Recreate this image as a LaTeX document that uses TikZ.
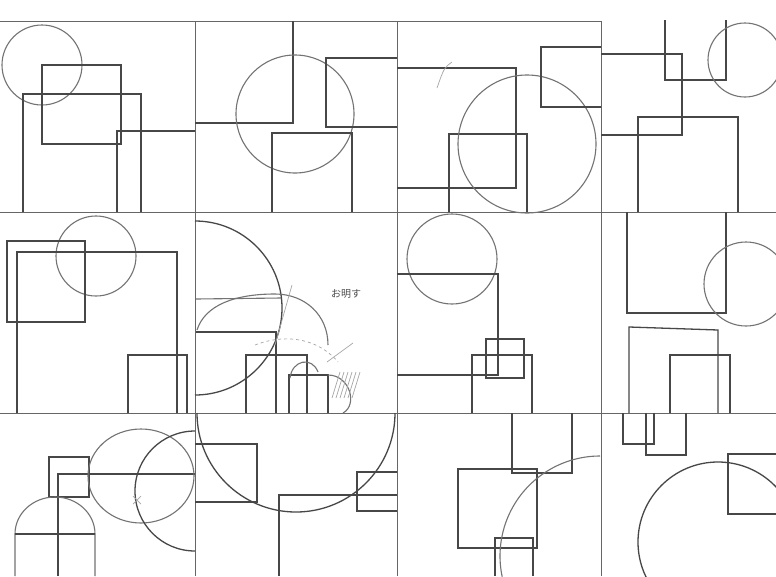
\documentclass[tikz,border=0pt]{standalone}
\usepackage{fontspec}
\usepackage{tikz}
\newfontfamily\jpfont{Noto Sans CJK JP}

\begin{document}
\begin{tikzpicture}[x=1pt,y=1pt,yscale=-1,
    pen/.style={draw=black!72,line width=1.3pt},
    ring/.style={draw=black!55,line width=1.1pt},
    frame/.style={draw=black!60,line width=1pt},
    faint/.style={draw=black!35,line width=0.7pt}]
        \useasboundingbox (0,0) rectangle (776,576);
        \clip (0,0) rectangle (776,576);
        \fill[white] (0,0) rectangle (776,576);
        % grid of the twelve panels
        \draw[frame] (0,21) -- (601,21);
        \draw[frame] (0,212) -- (776,212);
        \draw[frame] (0,413) -- (776,413);
        \draw[frame] (195,21) -- (195,576);
        \draw[frame] (397,21) -- (397,576);
        \draw[frame] (601,21) -- (601,576);
        % row 1
        \draw[ring] (42,65) circle (40);
        \draw[pen] (42,65) rectangle (121,144);
        \draw[pen] (23,212) -- (23,94) -- (141,94) -- (141,212);
        \draw[pen] (117,212) -- (117,131) -- (195,131);
        \draw[pen] (195,123) -- (293,123) -- (293,21);
        \draw[ring] (295,114) circle (59);
        \draw[pen] (397,58) -- (326,58) -- (326,127) -- (397,127);
        \draw[pen] (272,212) -- (272,133) -- (352,133) -- (352,212);
        \draw[pen] (397,68) -- (516,68) -- (516,188) -- (397,188);
        \draw[pen] (449,212) -- (449,134) -- (527,134) -- (527,212);
        \draw[ring] (527,144) circle (69);
        \draw[pen] (601,47) -- (541,47) -- (541,107) -- (601,107);
        \draw[faint] (452,62) .. controls (444,68) .. (437,88);
        \draw[pen] (665,20) -- (665,80) -- (726,80) -- (726,20);
        \draw[ring] (745,60) circle (37);
        \draw[pen] (601,54) -- (682,54) -- (682,135) -- (601,135);
        \draw[pen] (638,212) -- (638,117) -- (738,117) -- (738,212);
        % row 2
        \draw[ring] (96,256) circle (40);
        \draw[pen] (7,241) rectangle (85,322);
        \draw[pen] (17,413) -- (17,252) -- (177,252) -- (177,413);
        \draw[pen] (128,413) -- (128,355) -- (187,355) -- (187,413);
        \draw[pen] (195,221) arc[start angle=-90,end angle=90,radius=87];
        \draw[ring] (196,299) -- (281,298);
        \draw[ring] (197,330) .. controls (205,305) and (235,294) .. (275,294)
            .. controls (305,294) and (328,315) .. (328,345);
        \draw[pen] (196,332) -- (276,332) -- (276,413);
        \draw[pen] (246,413) -- (246,355) -- (307,355) -- (307,413);
        \draw[pen] (289,413) -- (289,375) -- (328,375) -- (328,413);
        \draw[ring] (328,375) .. controls (350,375) and (358,405) .. (343,413);
        \draw[ring] (290,378) .. controls (292,360) and (312,356) .. (318,372);
        \draw[faint] (327,362) -- (353,343);
        \draw[faint] (292,285) -- (275,345);
        \draw[faint,dashed] (255,345) .. controls (280,335) and (315,335) .. (338,362);
        \foreach \i in {0,...,5}
            \draw[faint] (332+4*\i,398) -- (340+4*\i,372);
        \node[text=black!70,font=\jpfont\normalsize] (memo) at (346,294) {お明す};
        \draw[ring] (452,259) circle (45);
        \draw[pen] (397,274) -- (498,274) -- (498,375) -- (397,375);
        \draw[pen] (486,339) rectangle (524,378);
        \draw[pen] (472,413) -- (472,355) -- (532,355) -- (532,413);
        \draw[pen] (627,212) -- (627,313) -- (726,313) -- (726,212);
        \draw[ring] (746,284) circle (42);
        \draw[pen] (629,413) -- (629,327) -- (718,330) -- (718,413);
        \draw[pen] (670,413) -- (670,355) -- (730,355) -- (730,413);
        % row 3
        \draw[pen] (49,457) rectangle (89,497);
        \draw[pen] (58,576) -- (58,474) -- (195,474);
        \draw[ring] (141,476) ellipse (53 and 47);
        \draw[pen] (195,431) arc[start angle=-90,end angle=-270,radius=60];
        \draw[faint] (133,496) -- (141,504) (133,504) -- (141,496);
        \draw[ring] (15,576) -- (15,534) arc[start angle=180,end angle=360,x radius=40,y radius=37] -- (95,576);
        \draw[pen] (15,534) -- (95,534);
        \draw[pen] (197,413) arc[start angle=180,end angle=0,radius=99];
        \draw[pen] (195,444) -- (257,444) -- (257,502) -- (195,502);
        \draw[pen] (279,576) -- (279,495) -- (397,495);
        \draw[pen] (397,472) -- (357,472) -- (357,511) -- (397,511);
        \draw[pen] (512,413) -- (512,473) -- (572,473) -- (572,413);
        \draw[pen] (458,469) rectangle (537,548);
        \draw[pen] (495,576) -- (495,538) -- (533,538) -- (533,576);
        \draw[ring] (600,456) arc[start angle=-90,end angle=-192,radius=100];
        \draw[pen] (623,413) -- (623,444) -- (654,444) -- (654,413);
        \draw[pen] (646,413) -- (646,455) -- (686,455) -- (686,413);
        \draw[pen] (776,454) -- (728,454) -- (728,514) -- (776,514);
        \draw[pen] (718,542) circle (80);
      \end{tikzpicture}
\end{document}
